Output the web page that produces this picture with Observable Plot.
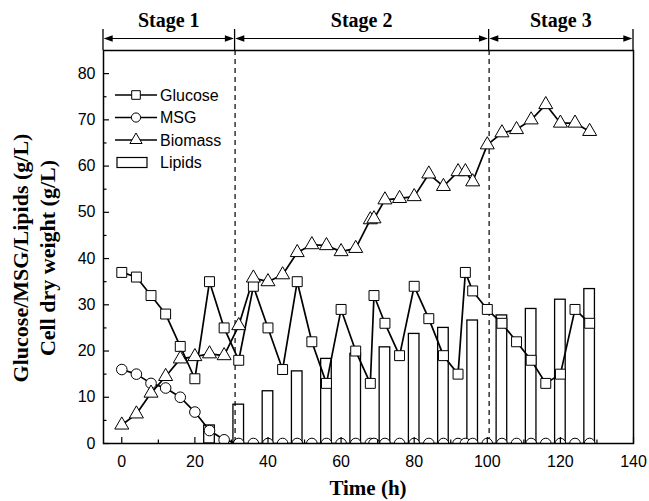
<!DOCTYPE html>
<html>
<head>
<meta charset="utf-8">
<script src="https://cdn.jsdelivr.net/npm/d3@7"></script>
<script src="https://cdn.jsdelivr.net/npm/@observablehq/plot@0.6"></script>
<style>
  html, body { margin: 0; padding: 0; background: white; }
  #chart { width: 649px; height: 501px; }
</style>
</head>
<body>
<div id="chart"></div>
<script>
// ---- data ----
const times = [0,4,8,12,16,20,24,28,32,36,40,44,48,52,56,60,64,68,69,72,76,80,84,88,92,94,96,100,104,108,112,116,120,124,128];
const glucose = [37,36,32,28,21,14,35,25,18,34,25,16,35,22,13,29,20,13,32,26,19,34,27,19,15,37,33,29,26,22,18,13,15,29,26];
const msg = [16,15,13,12,10,6.8,2.8,0.8,0,0,0,0,0,0,0,0,0,0,0,0,0,0,0,0,0,0,0,0,0,0,0,0,0,0,0];
const biomass = [4.0,6.4,10.9,14.5,18.3,18.8,19.4,19.0,25.5,35.8,35.0,36.5,41.3,43.0,42.8,41.5,42.2,48.4,48.6,52.7,53.0,53.4,58.3,55.6,58.8,58.8,56.6,64.6,67.2,67.9,70.0,73.3,69.3,69.3,67.5];
const lipidTimes = [24,32,40,48,56,64,72,80,88,96,104,112,120,128];
const lipids = [3.9,8.4,11.3,15.6,18.3,19.4,20.8,23.7,25.0,26.6,27.7,29.1,31.1,33.4];
const stageBounds = [-5,31,100.5,140];
const stageLabels = ["Stage 1","Stage 2","Stage 3"];
const xTicks = [0,20,40,60,80,100,120,140];
const xMinor = [10,30,50,70,90,110,130];
const yTicks = [0,10,20,30,40,50,60,70,80];
const yMinor = [5,15,25,35,45,55,65,75];
const legendNames = ["Glucose","MSG","Biomass","Lipids"];

// ---- tables ----
const rows = times.map((t,i) => ({t, glucose: glucose[i], msg: msg[i], biomass: biomass[i]}));
const lipidRows = lipidTimes.map((t,i) => ({t, v: lipids[i]}));

const serif = "'Liberation Serif', 'Times New Roman', serif";
const sans = "'Liberation Sans', Arial, sans-serif";

const plot = Plot.plot({
  width: 649,
  height: 501,
  marginLeft: 103,
  marginRight: 16,
  marginTop: 50,
  marginBottom: 58,
  style: {fontFamily: sans, fontSize: "16px", color: "black", background: "white"},
  x: {domain: [-5, 140]},
  y: {domain: [0, 85]},
  marks: [
    Plot.rectY(lipidRows, {x1: d => d.t - 1.45, x2: d => d.t + 1.45, y: "v", fill: "white", stroke: "black", strokeWidth: 1.3}),
    Plot.ruleX(stageBounds.slice(1, 3), {stroke: "black", strokeWidth: 1.2, strokeDasharray: "5,4"}),
    Plot.line(rows, {x: "t", y: "msg", stroke: "black", strokeWidth: 1.7, clip: true}),
    Plot.line(rows, {x: "t", y: "glucose", stroke: "black", strokeWidth: 1.7}),
    Plot.line(rows, {x: "t", y: "biomass", stroke: "black", strokeWidth: 1.7}),
    Plot.dot(rows, {x: "t", y: "msg", symbol: "circle", r: 5.3, fill: "white", stroke: "black", strokeWidth: 1, clip: true}),
    Plot.dot(rows, {x: "t", y: "glucose", symbol: "square", r: 5.6, fill: "white", stroke: "black", strokeWidth: 1}),
    Plot.dot(rows, {x: "t", y: "biomass", symbol: "triangle", r: 5.2, fill: "white", stroke: "black", strokeWidth: 1}),
    // tick labels
    Plot.axisX({ticks: xTicks, tickSize: 0, tickPadding: 12, fontSize: 16, label: null}),
    Plot.axisY({ticks: yTicks, tickSize: 0, tickPadding: 8, fontSize: 16, label: null}),
    // inward ticks
    Plot.axisX({ticks: xTicks, tickSize: 6, dy: -6, fill: "none", label: null, strokeWidth: 1.2}),
    Plot.axisX({ticks: xMinor, tickSize: 3.5, dy: -3.5, fill: "none", label: null, strokeWidth: 1.2}),
    Plot.axisY({ticks: yTicks, tickSize: 6, dx: 6, fill: "none", label: null, strokeWidth: 1.2}),
    Plot.axisY({ticks: yMinor, tickSize: 3.5, dx: 3.5, fill: "none", label: null, strokeWidth: 1.2}),
    Plot.frame({stroke: "black", strokeWidth: 1.5})
  ]
});

document.getElementById("chart").appendChild(plot);

// ---- annotations drawn with the plot's own scales ----
const svg = d3.select(plot);
const xs = plot.scale("x");
const X = v => xs.apply(v);
const frameTop = 50, frameLeft = 103;

// stage bar above the frame
const g = svg.append("g").attr("class", "stages");
const arrowY = 38.5;
stageBounds.forEach(b => {
  g.append("line").attr("x1", X(b)).attr("x2", X(b)).attr("y1", 29).attr("y2", frameTop)
    .attr("stroke", "black").attr("stroke-width", 1.3);
});
function arrowHead(x, y, dir) {
  const L = 9, H = 3.2;
  return `M${x},${y}L${x - dir * L},${y - H}L${x - dir * L},${y + H}Z`;
}
stageLabels.forEach((lab, i) => {
  const a = X(stageBounds[i]), b = X(stageBounds[i + 1]);
  g.append("line").attr("x1", a + 2).attr("x2", b - 2).attr("y1", arrowY).attr("y2", arrowY)
    .attr("stroke", "black").attr("stroke-width", 1.2);
  g.append("path").attr("d", arrowHead(a + 0.7, arrowY, -1)).attr("fill", "black");
  g.append("path").attr("d", arrowHead(b - 0.7, arrowY, 1)).attr("fill", "black");
  g.append("text").attr("x", (a + b) / 2).attr("y", 27).attr("text-anchor", "middle")
    .attr("font-family", serif).attr("font-weight", "bold").attr("font-size", 20).text(lab);
});

// legend
const lg = svg.append("g").attr("class", "legend");
const legendY = [95, 117.5, 140, 162.5];
const symbols = [d3.symbolSquare, d3.symbolCircle, d3.symbolTriangle];
const symR = [5.6, 5.3, 5.2];
legendNames.forEach((name, i) => {
  const y = legendY[i];
  if (i < 3) {
    lg.append("line").attr("x1", 115).attr("x2", 157).attr("y1", y).attr("y2", y)
      .attr("stroke", "black").attr("stroke-width", 1.7);
    lg.append("path").attr("transform", `translate(136,${y})`)
      .attr("d", d3.symbol(symbols[i], Math.PI * symR[i] * symR[i] * 0.75)())
      .attr("fill", "white").attr("stroke", "black").attr("stroke-width", 1);
  } else {
    lg.append("rect").attr("x", 117).attr("y", y - 5).attr("width", 30).attr("height", 10)
      .attr("fill", "white").attr("stroke", "black").attr("stroke-width", 1.2);
  }
  lg.append("text").attr("x", 160).attr("y", y).attr("dy", "0.36em").attr("text-anchor", "start")
    .attr("font-family", sans).attr("font-size", 16).text(name);
});

// axis titles
svg.append("text").attr("x", (frameLeft + X(140)) / 2).attr("y", 495).attr("text-anchor", "middle")
  .attr("font-family", serif).attr("font-weight", "bold").attr("font-size", 21).text("Time (h)");
const yc = 258;
svg.append("text").attr("transform", `translate(20,${yc}) rotate(-90)`).attr("dy", "0.35em")
  .attr("text-anchor", "middle").attr("font-family", serif).attr("font-weight", "bold").attr("font-size", 22)
  .text("Glucose/MSG/Lipids (g/L)");
svg.append("text").attr("transform", `translate(47,${yc}) rotate(-90)`).attr("dy", "0.35em")
  .attr("text-anchor", "middle").attr("font-family", serif).attr("font-weight", "bold").attr("font-size", 22)
  .text("Cell dry weight (g/L)");
</script>
</body>
</html>
